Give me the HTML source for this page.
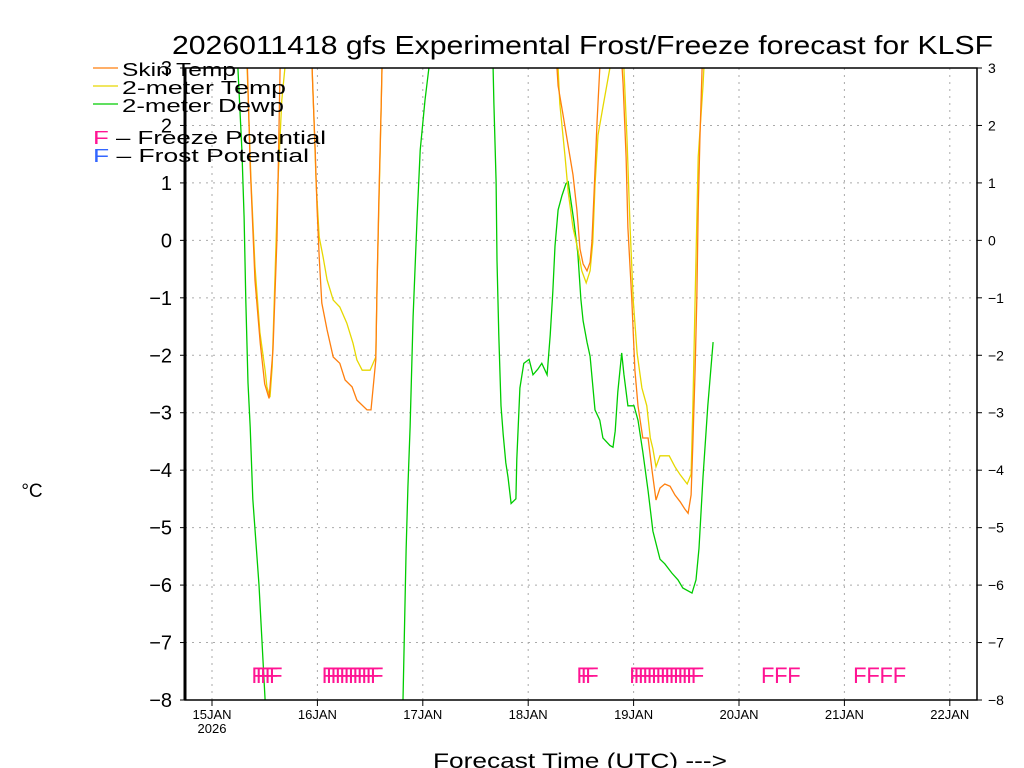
<!DOCTYPE html>
<html><head><meta charset="utf-8"><style>
html,body{margin:0;padding:0;background:#fff;overflow:hidden;width:1024px;height:768px;}
svg{display:block;font-family:"Liberation Sans",sans-serif;}
</style></head><body>
<svg id="chart" width="1024" height="768" viewBox="0 0 1024 768" overflow="hidden">
<defs><clipPath id="plotclip"><rect x="185" y="68" width="792" height="632"/></clipPath></defs>
<text x="172" y="54" textLength="821" lengthAdjust="spacingAndGlyphs" font-size="26" fill="#000">2026011418 gfs Experimental Frost/Freeze forecast for KLSF</text>
<g id="grid"></g>
<g id="series" clip-path="url(#plotclip)"></g>
<g id="freeze"></g>
<g id="axes"></g>
<text x="32" y="497" text-anchor="middle" font-size="19">°C</text>
<text x="433" y="768" textLength="294" lengthAdjust="spacingAndGlyphs" font-size="21">Forecast Time (UTC) ---&gt;</text>
<g font-size="18">
<line x1="93" y1="68" x2="118" y2="68" stroke="#ff7f0e" stroke-width="1.3"/>
<text x="122" y="76" textLength="114" lengthAdjust="spacingAndGlyphs">Skin Temp</text>
<line x1="93" y1="86" x2="118" y2="86" stroke="#e6d800" stroke-width="1.3"/>
<text x="122" y="94" textLength="164" lengthAdjust="spacingAndGlyphs">2-meter Temp</text>
<line x1="93" y1="104" x2="118" y2="104" stroke="#00cc00" stroke-width="1.3"/>
<text x="122" y="112" textLength="162" lengthAdjust="spacingAndGlyphs">2-meter Dewp</text>
<text x="93" y="144" textLength="233" lengthAdjust="spacingAndGlyphs"><tspan fill="#ff1493">F</tspan> – Freeze Potential</text>
<text x="93" y="162" textLength="216" lengthAdjust="spacingAndGlyphs"><tspan fill="#3366ff">F</tspan> – Frost Potential</text>
</g>
</svg>
<script>
// data: hours since 15JAN 00Z, values in °C
const dayLabels=["15JAN","16JAN","17JAN","18JAN","19JAN","20JAN","21JAN","22JAN"];
const yTicks=[3,2,1,0,-1,-2,-3,-4,-5,-6,-7,-8];
const skinHours=[0,6,8,8.7,9.8,11,12,13,13.9,14.8,15.3,15.5,19,22.8,23,23.5,23.9,24.4,25,26.2,27.6,29.1,30.3,31.9,33,35.3,36.2,37.3,37.6,38,38.5,38.7,60,78.3,78.8,79.9,81.1,82.2,83.1,83.8,84.5,85.4,86.1,86.5,87,87.7,88.3,91,93.6,94.3,94.7,95.6,96.3,97,98.1,99.3,100.2,101.1,102,103.1,104.3,105.4,106.6,107.7,108.4,109.1,109.5,110,110.4,110.7,111.1,111.6,114];
const skinVals=[8,5,3.2,1.3,-0.7,-1.8,-2.5,-2.75,-1.9,0.05,2.15,3,10,3,2.56,1.57,0.58,-0.29,-1.09,-1.56,-2.03,-2.14,-2.43,-2.55,-2.78,-2.95,-2.95,-2.08,-0.74,0.75,2.27,3,12,3.3,2.69,2.2,1.64,1.14,0.53,-0.15,-0.41,-0.53,-0.38,-0.03,0.84,2.08,3,6,2.72,1.45,0.22,-1.03,-2.26,-2.88,-3.44,-3.44,-4.0,-4.52,-4.31,-4.24,-4.28,-4.43,-4.55,-4.68,-4.75,-4.43,-3.51,-2.26,-1.03,0.53,1.76,3,8];
const t2mHours=[0,6,8,8.9,9.8,10.9,12.1,12.5,13.2,13.7,14.3,15,15.9,16.6,19,22.8,23.2,23.7,24.4,25.3,26.2,27.6,29.1,30.7,32.1,33,34.2,36,37.3,37.6,38.3,38.7,60,78.3,78.8,79.2,80.4,81.1,82.2,83.3,84.2,85.2,86.1,86.7,87.2,87.9,89,90.6,92,93.8,94.5,95.2,95.9,96.8,97.9,99,99.8,100.4,101.1,102,104.1,105.4,106.6,108.2,109.1,109.5,110,110.7,111.8,112,114];
const t2mVals=[8,5,3,1.0,-0.46,-1.6,-2.26,-2.55,-2.73,-2.2,-0.74,1.0,2.44,3,10,3,2.15,1.0,0.06,-0.29,-0.69,-1.04,-1.16,-1.44,-1.79,-2.08,-2.26,-2.26,-2.03,-0.74,1.57,3,12,3.3,3,2.38,1.45,0.84,0.22,-0.15,-0.53,-0.74,-0.53,-0.03,0.96,1.83,2.32,3,6,3,1.76,0.22,-1.03,-1.96,-2.57,-2.88,-3.44,-3.63,-3.94,-3.75,-3.75,-3.94,-4.08,-4.24,-4.07,-2.88,-1.03,1.45,2.69,3,8];
const dewHours=[0,5.9,6.8,7.3,7.7,8.2,8.7,9.3,10.7,12.1,28,43.5,44.2,44.6,45.1,45.8,46.7,47.4,48.5,49.4,56,64,64.2,64.7,64.9,65.3,65.8,66.3,66.9,67.4,68.1,69.2,69.4,70.1,71,72.2,73.1,74.2,75.1,76.3,77,77.6,78.1,78.8,79.7,80.6,81.1,81.7,82.4,83.3,84,84.5,85.4,86.1,87.2,88.3,89,90.6,91.3,91.8,92.4,93.3,93.8,94.7,96.1,97,98.1,99.3,100.4,102,103.1,104.7,106.1,107.2,109.3,110.2,110.9,111.8,112.9,114.1];
const dewVals=[8,3,1.57,0.4,-1.04,-2.48,-3.25,-4.5,-6,-8,-14,-8,-5.4,-4.3,-3.25,-1.33,0.4,1.57,2.44,3,10,3,2.38,1.02,-0.35,-1.65,-2.88,-3.38,-3.87,-4.12,-4.58,-4.5,-3.81,-2.57,-2.14,-2.07,-2.34,-2.24,-2.14,-2.34,-1.65,-0.9,-0.1,0.53,0.78,0.99,1.02,0.7,0.33,-0.22,-1.03,-1.4,-1.77,-2.02,-2.95,-3.13,-3.44,-3.57,-3.6,-3.32,-2.64,-1.96,-2.33,-2.88,-2.88,-3.13,-3.68,-4.36,-5.06,-5.55,-5.63,-5.79,-5.91,-6.05,-6.14,-5.91,-5.36,-4.12,-2.88,-1.77];
const freezeHours=[9,10,11,12,13,25,26,27,28,29,30,31,32,33,34,35,36,83,84,85,95,96,97,98,99,100,101,102,103,104,105,106,107,108,109,125,128,131,146,149,152,155];

const NS="http://www.w3.org/2000/svg";
const X0=185,X1=977,Y0=68,Y1=700;
function xs(h){return 212+h/24*105.4;}
function ys(v){return Y0+(3-v)*(Y1-Y0)/11;}
function mk(tag,attrs,parent){const e=document.createElementNS(NS,tag);for(const k in attrs)e.setAttribute(k,attrs[k]);parent.appendChild(e);return e;}
const grid=document.getElementById('grid'),axes=document.getElementById('axes'),ser=document.getElementById('series'),fz=document.getElementById('freeze');
yTicks.forEach(v=>{
  if(v<3&&v>-8){const l=mk('line',{x1:X0,x2:X1,y1:ys(v),y2:ys(v),stroke:'#aaa','stroke-width':1,'stroke-dasharray':'2,5'},grid);
  
  }
  const tl=mk('text',{x:172,y:ys(v)+7,'text-anchor':'end','font-size':20},axes);tl.textContent=v<0?'−'+(-v):String(v);
  
  
  const tr=mk('text',{x:988,y:ys(v)+5,'font-size':14},axes);tr.textContent=v<0?'−'+(-v):String(v);
  
  
  mk('line',{x1:X0-5,x2:X0,y1:ys(v),y2:ys(v),stroke:'#000'},axes);
  mk('line',{x1:X1,x2:X1+5,y1:ys(v),y2:ys(v),stroke:'#000'},axes);
});
dayLabels.forEach((d,i)=>{
  const x=xs(i*24);
  const g=mk('line',{x1:x,x2:x,y1:Y0,y2:Y1,stroke:'#aaa','stroke-width':1,'stroke-dasharray':'2,5'},grid);
  
  
  mk('line',{x1:x,x2:x,y1:Y1,y2:Y1+6,stroke:'#000'},axes);
  const t=mk('text',{x:x,y:719,'text-anchor':'middle','font-size':13},axes);t.textContent=d;
  
  
});
const yr=mk('text',{x:xs(0),y:733,'text-anchor':'middle','font-size':13},axes);yr.textContent='2026';


const fr=mk('rect',{x:X0,y:Y0,width:X1-X0,height:Y1-Y0,fill:'none',stroke:'#000','stroke-width':1.5},axes);


mk('line',{x1:X0,x2:X0,y1:Y0,y2:Y1,stroke:'#000','stroke-width':3},axes);
function line(hs,vs,color,name){
  const d=hs.map((h,i)=>(i?'L':'M')+xs(h).toFixed(1)+','+ys(vs[i]).toFixed(1)).join('');
  const p=mk('path',{d:d,fill:'none',stroke:color,'stroke-width':1.3},ser);
  
  
}
line(dewHours,dewVals,'#00cc00','dewpoint-line');
line(t2mHours,t2mVals,'#e6d800','2m-temp-line');
line(skinHours,skinVals,'#ff7f0e','skin-temp-line');
freezeHours.forEach(h=>{
  const t=mk('text',{x:xs(h),y:683,'font-size':22,fill:'#ff1493'},fz);t.textContent='F';
  
  
});
</script>
</body></html>
